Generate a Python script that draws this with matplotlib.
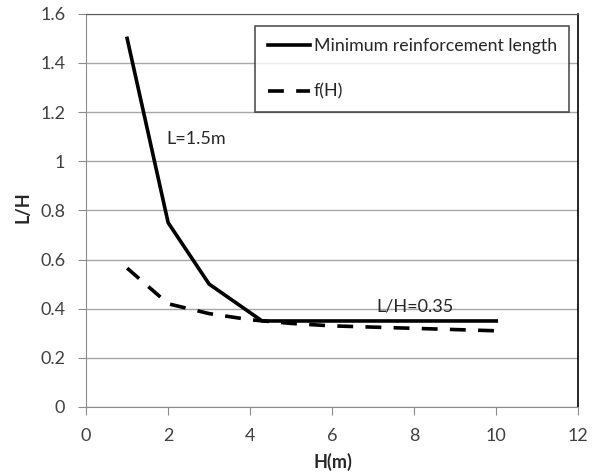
import matplotlib.pyplot as plt

plt.rcParams['font.family'] = ['Lato', 'DejaVu Sans']

# minimum reinforcement length, L/H
h_min = [1, 2, 3, 4.29, 10]
lh_min = [1.5, 0.75, 0.5, 0.35, 0.35]

# f(H)
h_f = [1, 2, 3, 4, 5, 6, 7, 8, 9, 10]
lh_f = [0.565, 0.42, 0.38, 0.355, 0.34, 0.33, 0.325, 0.32, 0.315, 0.31]

xticks = [0, 2, 4, 6, 8, 10, 12]
yticks = [0, 0.2, 0.4, 0.6, 0.8, 1, 1.2, 1.4, 1.6]
ytick_labels = ['0', '0.2', '0.4', '0.6', '0.8', '1', '1.2', '1.4', '1.6']

fig = plt.figure(figsize=(5.98, 4.76), dpi=100)
ax = fig.add_axes([0.144, 0.145, 0.823, 0.826])

ax.plot(h_min, lh_min, color='black', lw=2.6, label='Minimum reinforcement length',
        solid_joinstyle='round')
ax.plot(h_f, lh_f, color='black', lw=2.6, ls=(0, (4.4, 3.4)), label='f(H)')

ax.set_xlim(0, 12)
ax.set_ylim(0, 1.6)
ax.set_xticks(xticks)
ax.set_yticks(yticks)
ax.set_yticklabels(ytick_labels)
ax.grid(axis='y', color='#a6a6a6', lw=1)
ax.set_axisbelow(True)

for s in ['left', 'bottom']:
    ax.spines[s].set_color('#8c8c8c')
ax.spines['top'].set_color('#595959')
ax.spines['right'].set_color('black')
ax.spines['right'].set_linewidth(1.2)
ax.tick_params(colors='#8c8c8c', labelcolor='#404040', labelsize=13, length=6, direction='out')
ax.tick_params(axis='y', pad=9)
ax.tick_params(axis='x', pad=9)

ax.set_xlabel('H(m)', fontweight='bold', fontsize=13, color='#262626')
ax.set_ylabel('L/H', fontweight='bold', fontsize=13, color='#262626')
ax.xaxis.set_label_coords(0.502, -0.118)
ax.yaxis.set_label_coords(-0.11, 0.509)

ax.text(1.95, 1.09, 'L=1.5m', fontsize=13, color='#262626', va='center')
ax.text(7.08, 0.41, 'L/H=0.35', fontsize=13, color='#262626', va='center')

leg = ax.legend(loc='upper right', bbox_to_anchor=(0.982, 0.969), borderaxespad=0,
                fontsize=12.8, frameon=True, fancybox=False, edgecolor='#262626',
                handlelength=2.4, handletextpad=0.2, labelspacing=1.65, borderpad=0.7)
leg.get_frame().set_linewidth(1.2)
for t in leg.get_texts():
    t.set_color('#262626')

plt.savefig('out.png', dpi=100)
